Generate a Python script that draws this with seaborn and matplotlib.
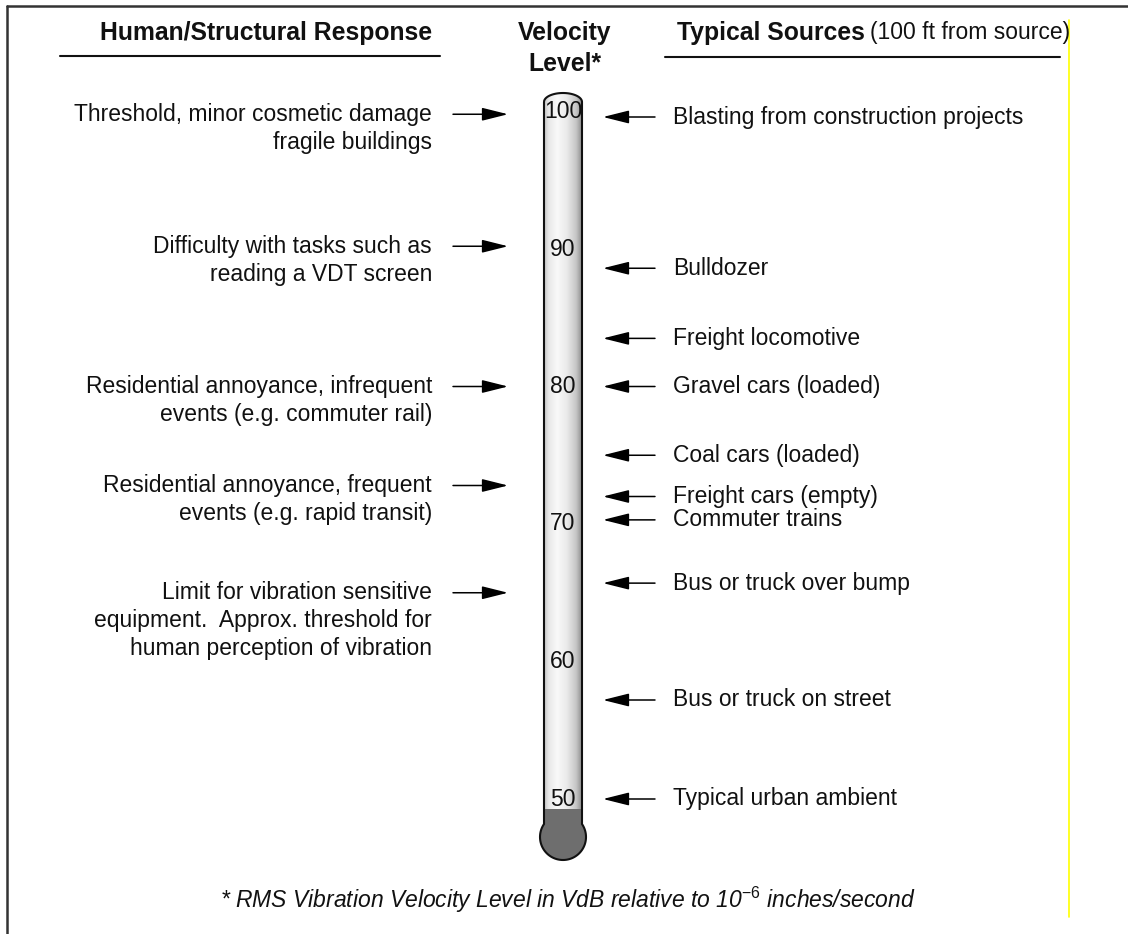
import numpy as np
import seaborn as sns
import matplotlib.pyplot as plt
from matplotlib.path import Path
from matplotlib.patches import PathPatch
from matplotlib.colors import to_rgb

# velocity scale on the thermometer (VdB)
scale_levels = [100, 90, 80, 70, 60, 50]

# left side: human / structural response
response_labels = [
    "Threshold, minor cosmetic damage\nfragile buildings",
    "Difficulty with tasks such as\nreading a VDT screen",
    "Residential annoyance, infrequent\nevents (e.g. commuter rail)",
    "Residential annoyance, frequent\nevents (e.g. rapid transit)",
    "Limit for vibration sensitive\nequipment.  Approx. threshold for\nhuman perception of vibration",
]
response_levels = [99.8, 90.2, 80.0, 72.8, 65.0]

# right side: typical sources
source_labels = [
    "Blasting from construction projects",
    "Bulldozer",
    "Freight locomotive",
    "Gravel cars (loaded)",
    "Coal cars (loaded)",
    "Freight cars (empty)",
    "Commuter trains",
    "Bus or truck over bump",
    "Bus or truck on street",
    "Typical urban ambient",
]
source_levels = [99.6, 88.6, 83.5, 80.0, 75.0, 72.0, 70.3, 65.7, 57.2, 50.0]

sns.set_theme(style="white")
plt.rcParams['font.family'] = ['Liberation Sans', 'DejaVu Sans']
plt.rcParams['mathtext.fontset'] = 'custom'
plt.rcParams['mathtext.rm'] = 'Liberation Sans'
plt.rcParams['mathtext.it'] = 'Liberation Sans:italic'

W, H = 1128, 934
BASE, PX = 799, 13.75   # pixel row of 50 VdB, pixels per VdB

fig = plt.figure(figsize=(W / 100, H / 100), dpi=100)
ax = fig.add_axes([0, 0, 1, 1])
ax.set_xlim(0, W)
ax.set_ylim(50 - (H - BASE) / PX, 50 + BASE / PX)
ax.axis('off')


def yv(yp):
    # layout row (pixels from top) -> VdB axis value
    return 50 + (BASE - yp) / PX


ink = '#111111'
fs = 16.5
hfs = 17.8

# ---- thermometer ----
xc, hw, r = 563, 19, 23
top_row, dome_h, bulb_row = 102, 9, 837
t = np.linspace(np.pi, 0, 40)
dome_x = xc + hw * np.cos(t)
dome_y = top_row - dome_h * np.sin(t)
joint = bulb_row - np.sqrt(r ** 2 - hw ** 2)
a0 = np.arctan2(bulb_row - joint, hw)
s = np.linspace(a0, -(np.pi + a0), 80)
bulb_x = xc + r * np.cos(s)
bulb_y = bulb_row - r * np.sin(s)

ox = np.concatenate([dome_x, bulb_x, [dome_x[0]]])
oy = yv(np.concatenate([dome_y, bulb_y, [dome_y[0]]]))
outline = Path(np.column_stack([ox, oy]))

clip = PathPatch(outline, facecolor='none', edgecolor='none')
ax.add_patch(clip)
stops = [0, 0.12, 0.35, 0.6, 0.85, 1.0]
cols = np.array([to_rgb(c) for c in ['#c4c4c4', '#e8e8e8', '#f9f9f9', '#eaeaea', '#c6c6c6', '#8e8e8e']])
g = np.linspace(0, 1, 200)
grad = np.stack([np.interp(g, stops, cols[:, k]) for k in range(3)], axis=-1)[None, :, :]
im = ax.imshow(grad, extent=[xc - hw, xc + hw, yv(bulb_row + r), yv(top_row - dome_h)],
               aspect='auto', interpolation='bicubic', zorder=1)
im.set_clip_path(clip)

fill_row = 809
fx = np.concatenate([[xc - hw, xc + hw], bulb_x, [xc - hw]])
fy = yv(np.concatenate([[fill_row, fill_row], bulb_y, [fill_row]]))
ax.fill(fx, fy, color='#6e6e6e', zorder=2, lw=0)
ax.add_patch(PathPatch(outline, facecolor='none', edgecolor=ink, lw=1.5, zorder=3))

for lv in scale_levels:
    ax.text(xc, lv, str(lv), ha='center', va='center', fontsize=fs, color=ink, zorder=4)

# ---- arrows and labels ----
arrow = dict(arrowstyle='-|>,head_length=0.8,head_width=0.2', lw=1.1, color='black',
             mutation_scale=20, shrinkA=0, shrinkB=0)
line_gap = 28 / PX

for label, lv in zip(response_labels, response_levels):
    ax.annotate('', xy=(508, lv), xytext=(453, lv), arrowprops=arrow)
    for i, line in enumerate(label.split('\n')):
        ax.text(432, lv - i * line_gap, line, ha='right', va='center', fontsize=fs, color=ink)

for label, lv in zip(source_labels, source_levels):
    ax.annotate('', xy=(603, lv), xytext=(655, lv), arrowprops=arrow)
    ax.text(673, lv, label, ha='left', va='center', fontsize=fs, color=ink)

# ---- headers ----
ax.text(266, yv(33), "Human/Structural Response", ha='center', va='center',
        fontsize=hfs, fontweight='bold', color=ink)
ax.text(565, yv(33), "Velocity", ha='center', va='center', fontsize=hfs, fontweight='bold', color=ink)
ax.text(565, yv(64), "Level*", ha='center', va='center', fontsize=hfs, fontweight='bold', color=ink)
ax.text(677, yv(33), "Typical Sources", ha='left', va='center', fontsize=hfs, fontweight='bold', color=ink)
ax.text(870, yv(33), "(100 ft from source)", ha='left', va='center', fontsize=fs, color=ink)
ax.plot([60, 440], [yv(55.5)] * 2, color=ink, lw=1.5)
ax.plot([665, 1060], [yv(56.5)] * 2, color=ink, lw=1.5)

# ---- footnote ----
ax.text(568, yv(900), r"* RMS Vibration Velocity Level in VdB relative to 10$^{\mathit{-6}}$ inches/second",
        ha='center', va='center', fontsize=fs, style='italic', color=ink)

# ---- page frame from the scan ----
ax.plot([7, 7], [yv(5.5), yv(H)], color='#333333', lw=1.8)
ax.plot([7, W], [yv(5.5)] * 2, color='#333333', lw=1.8)
ax.plot([1069, 1069], [yv(20), yv(917)], color='#ffff00', lw=1.2)

fig.savefig('out.png', dpi=100)
